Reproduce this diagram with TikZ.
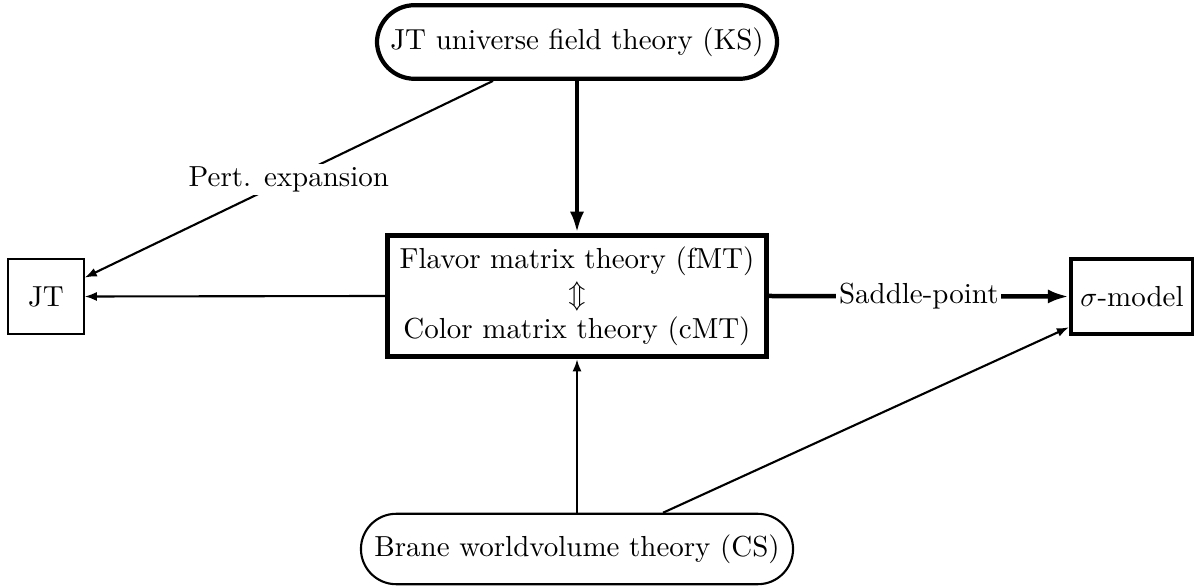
\documentclass[tikz,border=0pt]{standalone}
\usetikzlibrary{arrows.meta}
\begin{document}
\begin{tikzpicture}[x=0.0125cm,y=-0.0125cm,
  font=\fontsize{10.3}{12.4}\selectfont,
  thinline/.style={line width=0.75pt,-{Latex[length=4.3pt,width=3.2pt]}},
  thickline/.style={line width=1.6pt,-{Latex[length=7.5pt,width=5pt]}},
  lbl/.style={fill=white,inner sep=1pt},
  ]
\useasboundingbox (0,0) rectangle (1194,587);
\node[draw,line width=1.5pt,rounded corners=0.47cm,minimum width=5.0cm,minimum height=0.92cm] (top) at (577,42) {JT universe field theory (KS)};
\node[draw,line width=1.7pt,minimum width=4.73cm,minimum height=1.52cm,align=center,inner sep=2pt] (mid) at (577,296) {Flavor matrix theory (fMT)\\$\Updownarrow$\\Color matrix theory (cMT)};
\node[draw,line width=0.75pt,minimum width=0.94cm,minimum height=0.94cm] (jt) at (46,296.5) {JT};
\node[draw,line width=1.5pt,minimum width=1.47cm,minimum height=0.93cm] (sig) at (1132,296.5) {$\sigma$-model};
\node[draw,line width=0.75pt,rounded corners=0.44cm,minimum width=5.4cm,minimum height=0.88cm] (bot) at (577,549) {Brane worldvolume theory (CS)};
\draw[thickline] (top.south) -- (mid.north);
\draw[thinline] ([xshift=-1.05cm]top.south) -- node[lbl] {Pert. expansion} (jt.26);
\draw[thinline] (mid.west) -- (jt.east);
\draw[thickline] (mid.east) -- node[lbl] {Saddle-point} (sig.west);
\draw[thinline] (bot.north) -- (mid.south);
\draw[thinline] ([xshift=1.075cm]bot.north) -- (sig.206);
\end{tikzpicture}
\end{document}
